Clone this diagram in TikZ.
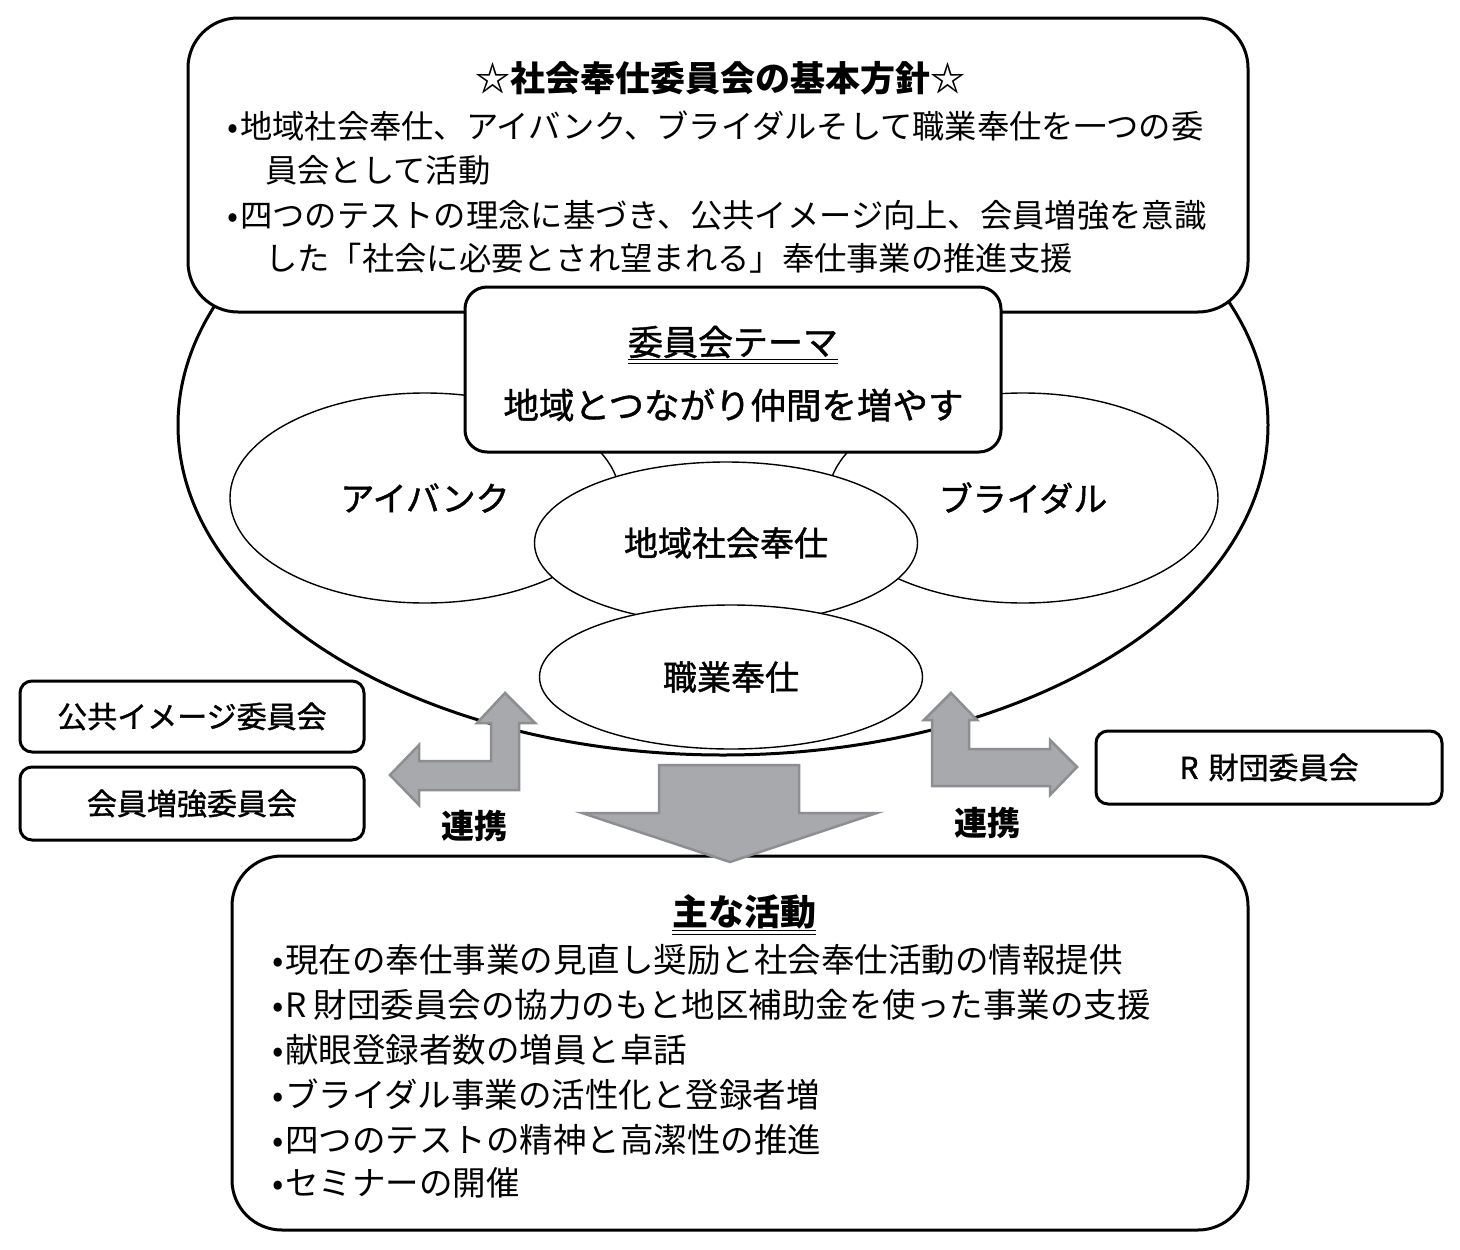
\documentclass[tikz,border=0pt]{standalone}
\usepackage{fontspec}
\setmainfont{Noto Sans CJK JP}
\newfontfamily\medfont{Noto Sans CJK JP}[FakeBold=1.2]
\usetikzlibrary{shapes.geometric}
\definecolor{arrowfill}{RGB}{167,169,172}
\definecolor{arrowline}{RGB}{140,142,145}
\tikzset{
  box/.style={draw=black, line width=3pt, fill=white},
  oval/.style={ellipse, draw=black, line width=1.4pt, fill=white, inner sep=0pt},
  fatarrow/.style={fill=arrowfill, draw=arrowline, line width=2.5pt, line join=miter},
  txt/.style={inner sep=0pt, anchor=west},
}
\newcommand{\fs}[1]{\fontsize{#1}{#1}\selectfont}
\newcommand{\bul}{\makebox[14pt][c]{•}}
\begin{document}
\begin{tikzpicture}[x=1pt,y=-1pt]
\useasboundingbox (0,0) rectangle (1460,1250);
\fill[white] (0,0) rectangle (1460,1250);

% outer ellipse
\node[ellipse, draw=black, line width=3pt, minimum width=1090pt, minimum height=660pt, inner sep=0pt] (outer) at (723,425) {};

% inner ellipses
\node[oval, minimum width=390pt, minimum height=210pt, font=\medfont\fs{34}] (eyebank) at (425,498) {アイバンク};
\node[oval, minimum width=390pt, minimum height=210pt, font=\medfont\fs{34}] (bridal) at (1023,498) {ブライダル};
\node[oval, minimum width=383pt, minimum height=162pt, font=\medfont\fs{34}] (community) at (726,543) {地域社会奉仕};
\node[oval, minimum width=383pt, minimum height=144pt, font=\medfont\fs{34}] (vocational) at (731,677) {職業奉仕};

% top box
\node[box, rounded corners=50pt, minimum width=1060pt, minimum height=294pt] (topbox) at (718,165) {};
\node[inner sep=0pt, font=\fs{35}\bfseries] (toptitle) at (720,78) {☆社会奉仕委員会の基本方針☆};
\node[txt, font=\fs{32.3}] (tl1) at (226,126) {\bul 地域社会奉仕、アイバンク、ブライダルそして職業奉仕を一つの委};
\node[txt, font=\fs{32.3}] (tl2) at (265,170) {員会として活動};
\node[txt, font=\fs{32.3}] (tl3) at (226,215) {\bul 四つのテストの理念に基づき、公共イメージ向上、会員増強を意識};
\node[txt, font=\fs{32.3}] (tl4) at (265,258) {した「社会に必要とされ望まれる」奉仕事業の推進支援};

% theme box
\node[box, rounded corners=22pt, minimum width=536pt, minimum height=165pt] (theme) at (733,369.5) {};
\node[inner sep=0pt, font=\medfont\fs{35}] (themetitle) at (733,342) {委員会テーマ};
\draw[line width=1.3pt] ([yshift=-1pt]themetitle.south west) -- ([yshift=-1pt]themetitle.south east);
\draw[line width=1.3pt] ([yshift=-5pt]themetitle.south west) -- ([yshift=-5pt]themetitle.south east);
\node[inner sep=0pt, font=\medfont\fs{35.5}] (themetext) at (733.5,405) {地域とつながり仲間を増やす};

% side boxes
\node[box, rounded corners=12pt, minimum width=344pt, minimum height=71pt, font=\medfont\fs{30}] (pubimage) at (192,716.5) {公共イメージ委員会};
\node[box, rounded corners=12pt, minimum width=344pt, minimum height=73pt, font=\medfont\fs{30}] (membership) at (192,803.5) {会員増強委員会};
\node[box, rounded corners=12pt, minimum width=346pt, minimum height=73pt, font=\medfont\fs{30}] (foundation) at (1269,767.5) {R\,\,財団委員会};

% bottom box
\node[box, rounded corners=50pt, minimum width=1016pt, minimum height=374pt] (bottombox) at (740,1043) {};
\node[inner sep=0pt, font=\fs{36}\bfseries] (bottomtitle) at (744,912) {主な活動};
\draw[line width=1.3pt] ([yshift=-1pt]bottomtitle.south west) -- ([yshift=-1pt]bottomtitle.south east);
\draw[line width=1.3pt] ([yshift=-5pt]bottomtitle.south west) -- ([yshift=-5pt]bottomtitle.south east);
\node[txt, font=\fs{33.5}] (bl1) at (271,960) {\bul 現在の奉仕事業の見直し奨励と社会奉仕活動の情報提供};
\node[txt, font=\fs{33.5}] (bl2) at (271,1005) {\bul R 財団委員会の協力のもと地区補助金を使った事業の支援};
\node[txt, font=\fs{33.5}] (bl3) at (271,1050) {\bul 献眼登録者数の増員と卓話};
\node[txt, font=\fs{33.5}] (bl4) at (271,1095) {\bul ブライダル事業の活性化と登録者増};
\node[txt, font=\fs{33.5}] (bl5) at (271,1140) {\bul 四つのテストの精神と高潔性の推進};
\node[txt, font=\fs{33.5}] (bl6) at (271,1183) {\bul セミナーの開催};

% arrows
\draw[fatarrow] (505,693) -- (535,723) -- (519,723) -- (519,790) -- (419,790) -- (419,805) -- (390,775) -- (419,745) -- (419,761) -- (491,761) -- (491,723) -- (477,723) -- cycle;
\draw[fatarrow] (951,693) -- (977,720) -- (969,720) -- (969,749) -- (1050,749) -- (1050,740) -- (1077,767) -- (1050,795) -- (1050,786) -- (932,786) -- (932,720) -- (924,720) -- cycle;
\draw[fatarrow] (659,765) -- (799,765) -- (799,813) -- (877,813) -- (730,862) -- (582,813) -- (659,813) -- cycle;

% labels
\node[inner sep=0pt, font=\fs{33}\bfseries] (linkleft) at (474,826) {連携};
\node[inner sep=0pt, font=\fs{33}\bfseries] (linkright) at (987,823) {連携};
\end{tikzpicture}
\end{document}
